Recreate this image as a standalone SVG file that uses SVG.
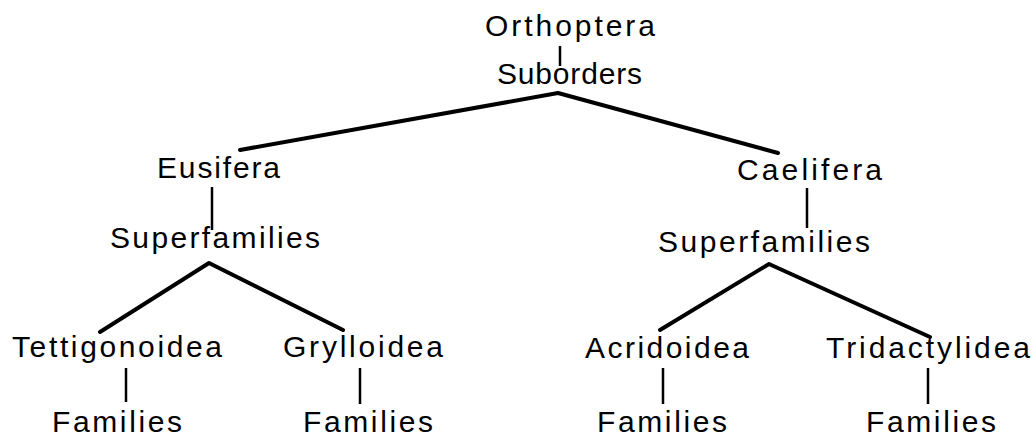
<svg xmlns="http://www.w3.org/2000/svg" width="1035" height="437" viewBox="0 0 1035 437">
<style>
text { font-family: "Liberation Sans", Arial, sans-serif; font-size: 30px; fill: #000; }
.d { stroke: #000; stroke-width: 4; fill: none; stroke-linecap: round; stroke-linejoin: round; }
.v { stroke: #000; stroke-width: 2.5; fill: none; }
</style>
<rect width="1035" height="437" fill="#fff"/>
<g id="connectors">
  <line class="v" x1="560" y1="46" x2="560" y2="66"/>
  <polyline class="d" points="240,150 558,93 778,153"/>
  <line class="v" x1="212" y1="187" x2="212" y2="230"/>
  <line class="v" x1="807" y1="188" x2="807" y2="228"/>
  <polyline class="d" points="100,332 209,263 343,330"/>
  <polyline class="d" points="660,330 769,264 930,337"/>
  <line class="v" x1="126" y1="368" x2="126" y2="402"/>
  <line class="v" x1="360" y1="368" x2="360" y2="404"/>
  <line class="v" x1="663" y1="368" x2="663" y2="404"/>
  <line class="v" x1="928" y1="368" x2="928" y2="404"/>
</g>
<g id="orthoptera"><text x="485" y="36" textLength="170" lengthAdjust="spacing">Orthoptera</text></g>
<g id="suborders"><text x="497" y="84" textLength="145" lengthAdjust="spacing">Suborders</text></g>
<g id="eusifera"><text x="157" y="178" textLength="123" lengthAdjust="spacing">Eusifera</text></g>
<g id="caelifera"><text x="737" y="180" textLength="145" lengthAdjust="spacing">Caelifera</text></g>
<g id="superfamilies-left"><text x="110" y="248" textLength="210" lengthAdjust="spacing">Superfamilies</text></g>
<g id="superfamilies-right"><text x="658" y="252" textLength="212" lengthAdjust="spacing">Superfamilies</text></g>
<g id="tettigonoidea"><text x="12" y="357" textLength="210" lengthAdjust="spacing">Tettigonoidea</text></g>
<g id="grylloidea"><text x="283" y="357" textLength="160" lengthAdjust="spacing">Grylloidea</text></g>
<g id="acridoidea"><text x="585" y="358" textLength="164" lengthAdjust="spacing">Acridoidea</text></g>
<g id="tridactylidea"><text x="826" y="358" textLength="204" lengthAdjust="spacing">Tridactylidea</text></g>
<g id="families-1"><text x="52" y="432" textLength="130" lengthAdjust="spacing">Families</text></g>
<g id="families-2"><text x="303" y="432" textLength="130" lengthAdjust="spacing">Families</text></g>
<g id="families-3"><text x="597" y="432" textLength="130" lengthAdjust="spacing">Families</text></g>
<g id="families-4"><text x="866" y="432" textLength="130" lengthAdjust="spacing">Families</text></g>
</svg>
